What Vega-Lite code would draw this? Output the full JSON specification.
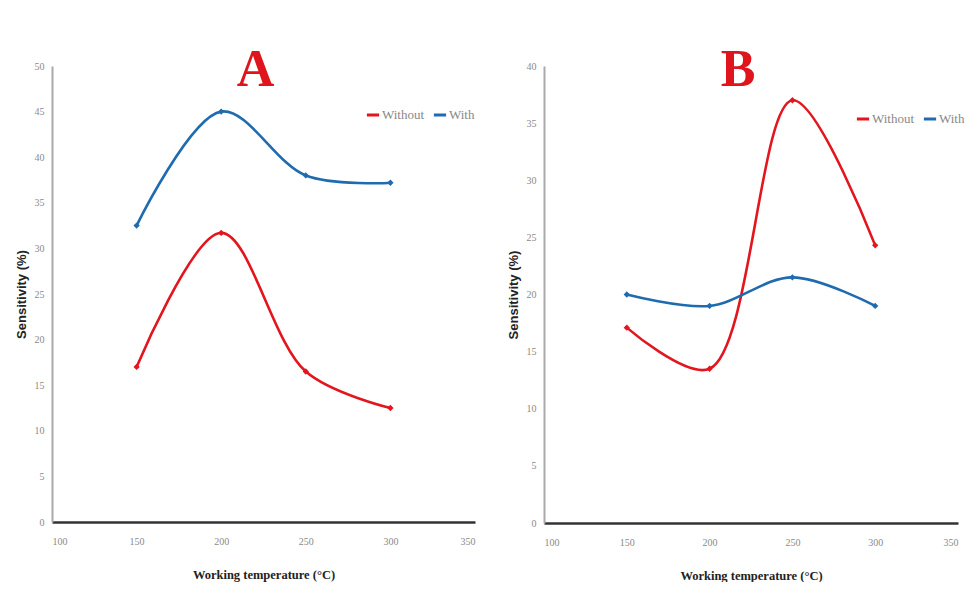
{
  "$schema": "https://vega.github.io/schema/vega-lite/v6.json",
  "padding": {"left": 15, "top": 44, "right": 0, "bottom": 0},
  "background": "white",
  "datasets": {
    "A": [
      {"temp": 150, "series": "Without", "value": 17.0},
      {"temp": 200, "series": "Without", "value": 31.7},
      {"temp": 250, "series": "Without", "value": 16.5},
      {"temp": 300, "series": "Without", "value": 12.5},
      {"temp": 150, "series": "With", "value": 32.5},
      {"temp": 200, "series": "With", "value": 45.0},
      {"temp": 250, "series": "With", "value": 38.0},
      {"temp": 300, "series": "With", "value": 37.2}
    ],
    "B": [
      {"temp": 150, "series": "Without", "value": 17.1},
      {"temp": 200, "series": "Without", "value": 13.5},
      {"temp": 250, "series": "Without", "value": 37.0},
      {"temp": 300, "series": "Without", "value": 24.3},
      {"temp": 150, "series": "With", "value": 20.0},
      {"temp": 200, "series": "With", "value": 19.0},
      {"temp": 250, "series": "With", "value": 21.5},
      {"temp": 300, "series": "With", "value": 19.0}
    ]
  },
  "config": {
    "view": {"stroke": null},
    "concat": {"spacing": 32},
    "axis": {
      "grid": false,
      "ticks": false,
      "labelFont": "Liberation Serif",
      "labelFontSize": 10,
      "labelColor": "#8a8a8a",
      "titleFont": "Liberation Serif",
      "titleFontWeight": "bold",
      "titleColor": "#222222"
    },
    "title": {
      "font": "Liberation Serif",
      "fontWeight": "bold",
      "fontSize": 52,
      "color": "#e0141c",
      "anchor": "middle",
      "offset": -36
    }
  },
  "hconcat": [
    {
      "title": {"text": "A", "dx": -8},
      "width": 423,
      "height": 456,
      "data": {"name": "A"},
      "encoding": {
        "x": {
          "field": "temp", "type": "quantitative",
          "scale": {"domain": [100, 350], "nice": false},
          "axis": {"values": [100, 150, 200, 250, 300, 350], "title": "Working temperature (°C)", "titleFontSize": 12.5, "labelPadding": 14, "titlePadding": 22, "domainColor": "#333333", "domainWidth": 2.5}
        },
        "y": {
          "field": "value", "type": "quantitative",
          "scale": {"domain": [0, 50], "nice": false},
          "axis": {"values": [0, 5, 10, 15, 20, 25, 30, 35, 40, 45, 50], "title": "Sensitivity (%)", "titleFont": "Liberation Sans", "titleFontSize": 13, "labelPadding": 8, "titlePadding": 6, "domainColor": "#aaaaaa", "domainWidth": 2}
        },
        "color": {
          "field": "series", "type": "nominal",
          "scale": {"domain": ["Without", "With"], "range": ["#e3151e", "#1f6bb0"]},
          "legend": {"orient": "none", "legendX": 313, "legendY": 41, "direction": "horizontal", "title": null, "labelFont": "Liberation Serif", "labelFontSize": 13, "labelColor": "#888888", "symbolType": "stroke", "symbolStrokeWidth": 3, "symbolSize": 150, "columnPadding": 2, "labelOffset": 1}
        }
      },
      "layer": [
        {"mark": {"type": "line", "interpolate": "catmull-rom", "strokeWidth": 2.6}},
        {"mark": {"type": "point", "shape": "diamond", "filled": true, "size": 40, "opacity": 1}}
      ]
    },
    {
      "title": {"text": "B", "dx": -13},
      "width": 414,
      "height": 457,
      "data": {"name": "B"},
      "encoding": {
        "x": {
          "field": "temp", "type": "quantitative",
          "scale": {"domain": [100, 350], "nice": false},
          "axis": {"values": [100, 150, 200, 250, 300, 350], "title": "Working temperature (°C)", "titleFontSize": 12.5, "labelPadding": 14, "titlePadding": 22, "domainColor": "#333333", "domainWidth": 2.5}
        },
        "y": {
          "field": "value", "type": "quantitative",
          "scale": {"domain": [0, 40], "nice": false},
          "axis": {"values": [0, 5, 10, 15, 20, 25, 30, 35, 40], "title": "Sensitivity (%)", "titleFont": "Liberation Sans", "titleFontSize": 13, "labelPadding": 8, "titlePadding": 6, "domainColor": "#aaaaaa", "domainWidth": 2}
        },
        "color": {
          "field": "series", "type": "nominal",
          "scale": {"domain": ["Without", "With"], "range": ["#e3151e", "#1f6bb0"]},
          "legend": {"orient": "none", "legendX": 311, "legendY": 45, "direction": "horizontal", "title": null, "labelFont": "Liberation Serif", "labelFontSize": 13, "labelColor": "#888888", "symbolType": "stroke", "symbolStrokeWidth": 3, "symbolSize": 150, "columnPadding": 2, "labelOffset": 1}
        }
      },
      "layer": [
        {"mark": {"type": "line", "interpolate": "catmull-rom", "strokeWidth": 2.6}},
        {"mark": {"type": "point", "shape": "diamond", "filled": true, "size": 40, "opacity": 1}}
      ]
    }
  ],
  "resolve": {"scale": {"color": "independent"}, "legend": {"color": "independent"}}
}
